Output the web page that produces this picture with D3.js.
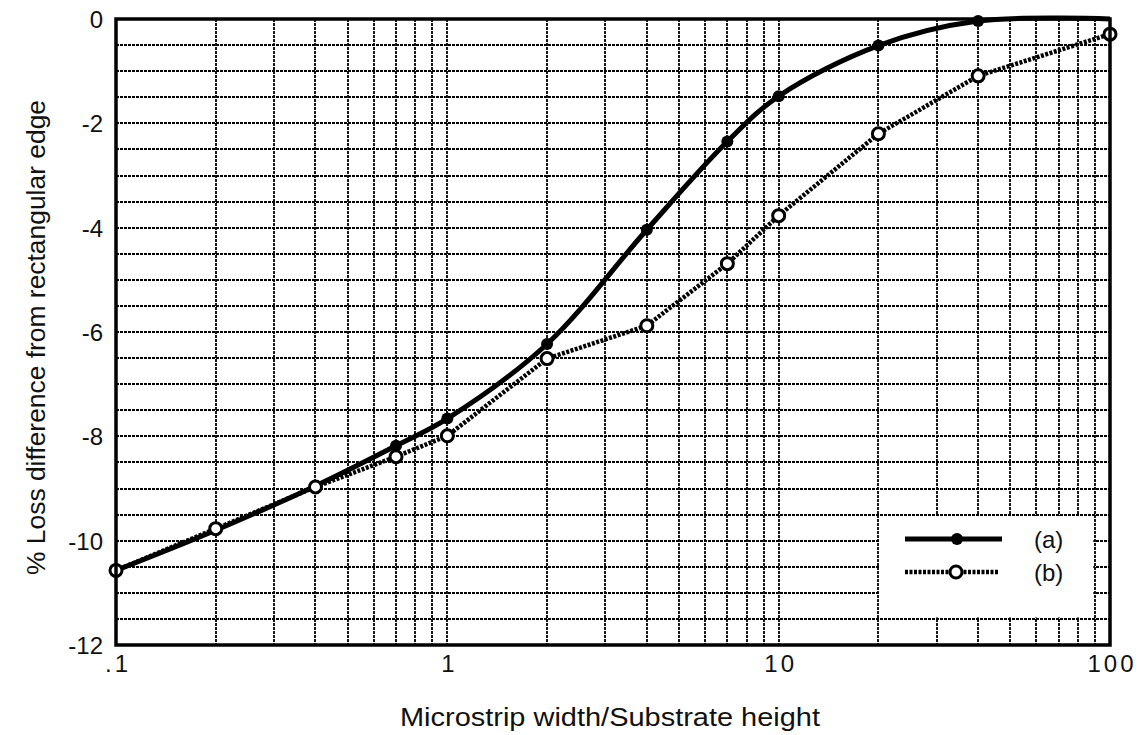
<!DOCTYPE html>
<html lang="en">
	<head>
		<meta charset="utf-8">
		<title>Loss difference vs microstrip width</title>
		<script src="https://d3js.org/d3.v7.min.js"></script>
		<style>
			body { margin: 0; background: #fff; }
			text { font-family: "Liberation Sans", Arial, sans-serif; fill: #111; }
		</style>
	</head>
	<body>
		<script type="text/javascript">
			// window size setup
			var w = 1144
			var h = 735

			// data
			var xValues = [0.1, 0.2, 0.4, 0.7, 1, 2, 4, 7, 10, 20, 40, 100]
			var seriesA = [-10.57, -9.8, -8.95, -8.18, -7.66, -6.23, -4.04, -2.35, -1.48, -0.51, -0.04, 0.0]
			var seriesB = [-10.57, -9.77, -8.97, -8.39, -7.99, -6.51, -5.88, -4.69, -3.77, -2.2, -1.09, -0.29]
			var xTickValues = [0.1, 1, 10, 100]
			var xTickLabels = [".1", "1", "10", "100"]
			var yTickValues = [0, -2, -4, -6, -8, -10, -12]
			var legendNames = ["(a)", "(b)"]

			var dataA = xValues.map(function(x, i){ return { x: x, y: seriesA[i] } })
			var dataB = xValues.map(function(x, i){ return { x: x, y: seriesB[i] } })

			// scales
			var xScale = d3.scaleLog()
							.domain([0.1, 100])
							.range([116, 1110])
			var yScale = d3.scaleLinear()
							.domain([0, -12])
							.range([19, 645])

			var svg = d3.select("body")
						.append("svg")
						.attr("width", w)
						.attr("height", h)

			var x0 = xScale.range()[0], x1 = xScale.range()[1]
			var y0 = yScale.range()[0], y1 = yScale.range()[1]

			// grid
			var grid = svg.append("g")
						.attr("stroke", "#000")
						.attr("stroke-width", 1.8)
						.attr("stroke-dasharray", "3,1")

			grid.selectAll("line.v")
				.data(xScale.ticks())
				.enter()
				.append("line")
				.attr("class", "v")
				.attr("x1", function(d){ return Math.round(xScale(d)) })
				.attr("x2", function(d){ return Math.round(xScale(d)) })
				.attr("y1", y0)
				.attr("y2", y1)

			grid.selectAll("line.h")
				.data(yScale.ticks(24))
				.enter()
				.append("line")
				.attr("class", "h")
				.attr("x1", x0)
				.attr("x2", x1)
				.attr("y1", function(d){ return Math.round(yScale(d)) })
				.attr("y2", function(d){ return Math.round(yScale(d)) })

			// legend background hides the grid behind it
			svg.append("rect")
				.attr("x", xScale(20) + 1.5)
				.attr("y", yScale(-9.5) + 1.5)
				.attr("width", xScale(90) - xScale(20) - 3)
				.attr("height", yScale(-11.5) - yScale(-9.5) - 3)
				.attr("fill", "#fff")

			// series
			var lineA = d3.line()
						.x(function(d){ return xScale(d.x) })
						.y(function(d){ return yScale(d.y) })
						.curve(d3.curveCatmullRom.alpha(0.5))
			var lineB = d3.line()
						.x(function(d){ return xScale(d.x) })
						.y(function(d){ return yScale(d.y) })

			svg.append("path")
				.datum(dataB)
				.attr("d", lineB)
				.attr("fill", "none")
				.attr("stroke", "#000")
				.attr("stroke-width", 4.5)
				.attr("stroke-dasharray", "3,1.5")

			svg.append("path")
				.datum(dataA)
				.attr("d", lineA)
				.attr("fill", "none")
				.attr("stroke", "#000")
				.attr("stroke-width", 5)

			svg.selectAll("circle.a")
				.data(dataA.filter(function(d){ return d.x >= 0.7 && d.x < 100 }))
				.enter()
				.append("circle")
				.attr("class", "a")
				.attr("cx", function(d){ return xScale(d.x) })
				.attr("cy", function(d){ return yScale(d.y) })
				.attr("r", 6)
				.attr("fill", "#000")

			svg.selectAll("circle.b")
				.data(dataB)
				.enter()
				.append("circle")
				.attr("class", "b")
				.attr("cx", function(d){ return xScale(d.x) })
				.attr("cy", function(d){ return yScale(d.y) })
				.attr("r", 6)
				.attr("fill", "#fff")
				.attr("stroke", "#000")
				.attr("stroke-width", 3)

			// legend
			var lg = svg.append("g")
			lg.append("line")
				.attr("x1", 905).attr("x2", 1002)
				.attr("y1", 539).attr("y2", 539)
				.attr("stroke", "#000").attr("stroke-width", 5)
			lg.append("circle")
				.attr("cx", 957).attr("cy", 539).attr("r", 6)
				.attr("fill", "#000")
			lg.append("line")
				.attr("x1", 905).attr("x2", 998)
				.attr("y1", 572).attr("y2", 572)
				.attr("stroke", "#000").attr("stroke-width", 4.5)
				.attr("stroke-dasharray", "3,1.5")
			lg.append("circle")
				.attr("cx", 956).attr("cy", 572).attr("r", 6)
				.attr("fill", "#fff").attr("stroke", "#000").attr("stroke-width", 3)
			lg.selectAll("text")
				.data(legendNames)
				.enter()
				.append("text")
				.attr("x", 1034)
				.attr("y", function(d, i){ return 548 + i * 33 })
				.attr("font-size", "24px")
				.text(function(d){ return d })

			// frame
			svg.append("rect")
				.attr("x", x0)
				.attr("y", y0)
				.attr("width", x1 - x0)
				.attr("height", y1 - y0)
				.attr("fill", "none")
				.attr("stroke", "#000")
				.attr("stroke-width", 3.5)

			// tick labels
			svg.selectAll("text.yt")
				.data(yTickValues)
				.enter()
				.append("text")
				.attr("class", "yt")
				.attr("x", 103)
				.attr("y", function(d){ return yScale(d) + 9 })
				.attr("text-anchor", "end")
				.attr("font-size", "24px")
				.text(function(d){ return d })

			svg.selectAll("text.xt")
				.data(xTickValues)
				.enter()
				.append("text")
				.attr("class", "xt")
				.attr("x", function(d){ return xScale(d) + 2 })
				.attr("y", 672)
				.attr("text-anchor", "middle")
				.attr("font-size", "24px")
				.attr("letter-spacing", "3px")
				.text(function(d, i){ return xTickLabels[i] })

			// axis titles
			svg.append("text")
				.attr("x", 400)
				.attr("y", 726)
				.attr("font-size", "25px")
				.attr("textLength", 420)
				.attr("lengthAdjust", "spacingAndGlyphs")
				.text("Microstrip width/Substrate height")

			svg.append("text")
				.attr("transform", "translate(45,575) rotate(-90)")
				.attr("font-size", "25px")
				.attr("textLength", 475)
				.attr("lengthAdjust", "spacingAndGlyphs")
				.text("% Loss difference from rectangular edge")
		</script>
	</body>
</html>
